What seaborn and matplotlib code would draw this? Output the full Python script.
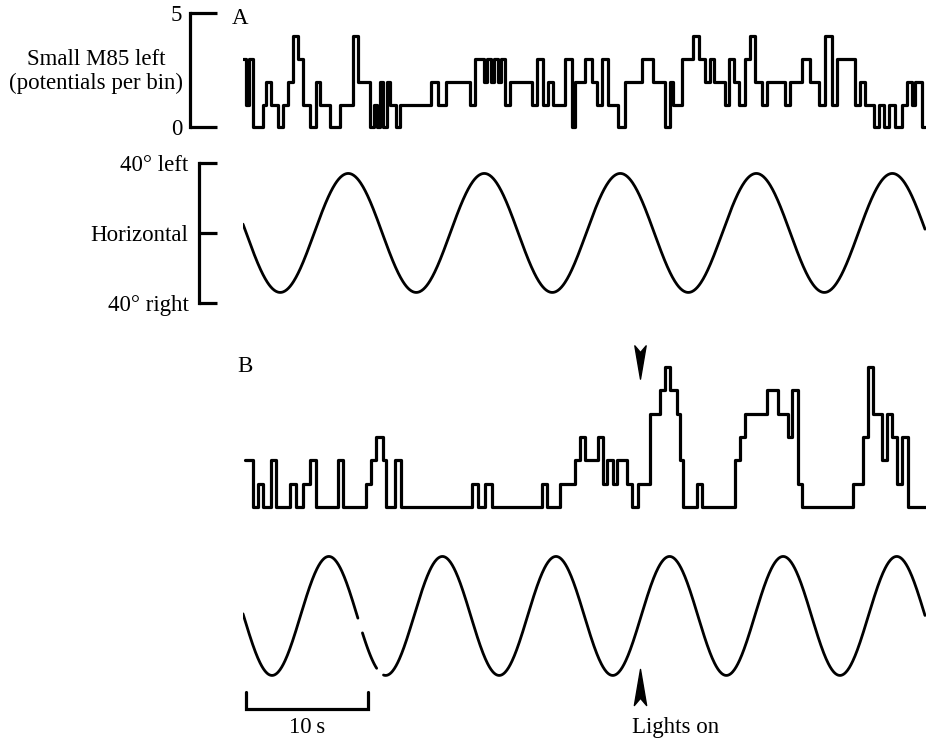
import matplotlib
matplotlib.use("Agg")
import matplotlib.pyplot as plt
import numpy as np
import pandas as pd
import seaborn as sns
from matplotlib.path import Path

# A: small M85 left, potentials per bin (step trace), bin edges in s
a_edges_s = [
    0.00, 0.25, 0.49, 0.82, 1.64, 1.89, 2.30, 2.87, 3.28, 3.69,
    4.10, 4.51, 4.92, 5.49, 5.98, 6.31, 7.13, 7.95, 9.02, 9.43,
    10.41, 10.74, 10.98, 11.23, 11.48, 11.80, 12.05, 12.54, 12.87, 15.41,
    15.98, 16.64, 18.61, 19.02, 19.75, 20.00, 20.33, 20.57, 20.90, 21.15,
    21.48, 21.89, 23.69, 24.10, 24.59, 25.00, 25.41, 26.39, 26.97, 27.21,
    28.03, 28.61, 29.02, 29.43, 29.92, 30.74, 31.31, 32.70, 33.61, 34.59,
    35.00, 35.25, 35.98, 36.89, 37.38, 37.87, 38.28, 38.61, 39.51, 39.84,
    40.25, 40.66, 41.15, 41.56, 41.97, 42.54, 42.95, 44.43, 44.84, 45.82,
    46.48, 47.21, 47.70, 48.28, 48.69, 50.16, 50.57, 50.98, 51.72, 52.13,
    52.54, 52.95, 53.44, 54.02, 54.43, 54.84, 55.08, 55.66, 55.90,
]
a_counts = [
    3, 1, 3, 0, 1, 2, 1, 0, 1, 2,
    4, 3, 1, 0, 2, 1, 0, 1, 4, 2,
    0, 1, 0, 2, 0, 2, 1, 0, 1, 2,
    1, 2, 1, 3, 2, 3, 2, 3, 2, 3,
    1, 2, 1, 3, 1, 2, 1, 3, 0, 2,
    3, 2, 1, 3, 1, 0, 2, 3, 2, 0,
    2, 1, 3, 4, 3, 2, 3, 2, 1, 3,
    2, 1, 3, 4, 2, 1, 2, 1, 2, 3,
    2, 1, 4, 1, 3, 1, 2, 1, 0, 1,
    0, 1, 0, 1, 2, 1, 2, 0,
]

# B: same neurone, lights switched on during the run
b_edges_s = [
    0.16, 0.82, 1.23, 1.64, 2.30, 2.70, 3.85, 4.34, 4.92, 5.49,
    5.98, 7.79, 8.20, 10.08, 10.49, 10.90, 11.48, 11.72, 12.46, 12.95,
    18.77, 19.26, 19.84, 20.41, 24.51, 24.92, 25.98, 27.21, 27.62, 28.03,
    29.10, 29.51, 29.84, 30.33, 30.66, 31.48, 31.89, 32.38, 33.36, 34.18,
    34.59, 35.00, 35.57, 35.82, 36.07, 37.21, 37.62, 40.33, 40.74, 41.15,
    42.95, 43.85, 44.67, 45.00, 45.49, 45.82, 50.00, 50.82, 51.23, 51.64,
    52.38, 52.79, 53.20, 53.61, 54.02, 54.51, 56.07,
]
b_counts = [
    2, 0, 1, 0, 2, 0, 1, 0, 1, 2,
    0, 2, 0, 1, 2, 3, 2, 0, 2, 0,
    1, 0, 1, 0, 1, 0, 1, 2, 3, 2,
    3, 1, 2, 1, 2, 1, 0, 1, 4, 5,
    6, 5, 4, 2, 0, 1, 0, 2, 3, 4,
    5, 4, 3, 5, 1, 0, 1, 3, 6, 4,
    2, 4, 3, 1, 3, 0,
]

# sinusoidal horizontal rotation (deg, + = left)
a_stim_amp_deg = 34
a_stim_period_s = 11.15
a_stim_trough_s = 3.05
a_duration_s = 55.9
b_stim_amp_deg = 34
b_stim_period_s = 9.31
b_stim_trough_s = 2.38
b_duration_s = 55.9
b_stim_gaps_s = [(9.43, 9.75), (10.98, 11.48)]

lights_on_s = 32.5
scale_bar_s = 10
count_ticks = [0, 5]
deg_ticks = [40, 0, -40]
deg_labels = ["40\u00b0 left", "Horizontal", "40\u00b0 right"]

FIG_W, FIG_H = 928, 741
X0, PX_PER_S, T_MAX = 243, 12.2, 56.0
FS = 16.5
LW = 2.3


def px_rect(top, bottom):
    return [X0 / FIG_W, 1 - bottom / FIG_H, T_MAX * PX_PER_S / FIG_W, (bottom - top) / FIG_H]


def step_frame(edges, counts):
    return pd.DataFrame({"t": edges, "count": list(counts) + [counts[-1]]})


def stim_frame(amp, period, trough, duration, gaps=()):
    t = np.linspace(0, duration, 1200)
    deg = -amp * np.cos(2 * np.pi * (t - trough) / period)
    keep = np.ones_like(t, dtype=bool)
    for g0, g1 in gaps:
        keep &= ~((t > g0) & (t < g1))
    seg = np.cumsum(np.r_[0, np.diff(keep.astype(int)) != 0])
    return pd.DataFrame({"t": t, "deg": deg, "seg": seg})[keep]


def bracket(ax, ticks, labels, outward_pt, length_pt, pad_pt):
    for side in ("top", "right", "bottom"):
        ax.spines[side].set_visible(False)
    sp = ax.spines["left"]
    sp.set_visible(True)
    sp.set_position(("outward", outward_pt))
    sp.set_bounds(min(ticks), max(ticks))
    sp.set_linewidth(2.3)
    sp.set_color("black")
    sp.set_capstyle("projecting")
    ax.set_xticks([])
    ax.set_yticks(ticks)
    ax.set_yticklabels(labels)
    ax.tick_params(axis="y", left=True, direction="in", length=length_pt,
                   width=2.3, pad=pad_pt, labelsize=FS, colors="black")


sns.set_theme(style="white")
plt.rcParams["font.family"] = ["Liberation Serif", "DejaVu Serif"]
plt.rcParams["text.color"] = "black"
plt.rcParams["axes.labelcolor"] = "black"

arrow_up = Path([(0, 0.5), (0.17, -0.5), (0, -0.3), (-0.17, -0.5), (0, 0.5)],
                [Path.MOVETO, Path.LINETO, Path.LINETO, Path.LINETO, Path.CLOSEPOLY])
arrow_down = Path([(0, -0.5), (0.17, 0.5), (0, 0.3), (-0.17, 0.5), (0, -0.5)],
                  [Path.MOVETO, Path.LINETO, Path.LINETO, Path.LINETO, Path.CLOSEPOLY])

fig = plt.figure(figsize=(FIG_W / 100, FIG_H / 100), dpi=100)
fig.patch.set_facecolor("white")

ax_a = fig.add_axes(px_rect(5, 140))
ax_sa = fig.add_axes(px_rect(150, 315))
ax_b = fig.add_axes(px_rect(335, 520))
ax_sb = fig.add_axes(px_rect(540, 712))
for ax in (ax_a, ax_sa, ax_b, ax_sb):
    ax.set_facecolor("none")
    ax.set_xlim(0, T_MAX)

# panel A
sns.lineplot(data=step_frame(a_edges_s, a_counts), x="t", y="count", ax=ax_a,
             color="black", linewidth=LW, drawstyle="steps-post",
             estimator=None, sort=False)
ax_a.set_ylim(-0.546, 5.35)
bracket(ax_a, count_ticks, [str(v) for v in count_ticks], 38.2, 19.4, 5.5)
ax_a.set_ylabel("Small M85 left\n(potentials per bin)", rotation=0, color="black",
                fontsize=FS, ha="center", va="center", multialignment="center")
ax_a.yaxis.set_label_coords(-0.2155, 0.507)
ax_a.set_xlabel("")

sns.lineplot(data=stim_frame(a_stim_amp_deg, a_stim_period_s, a_stim_trough_s, a_duration_s),
             x="t", y="deg", units="seg", estimator=None, ax=ax_sa,
             color="black", linewidth=2.0)
ax_sa.set_ylim(-46.9, 47.4)
bracket(ax_sa, deg_ticks, deg_labels, 31.7, 13.0, 7.5)
ax_sa.set_ylabel("")
ax_sa.set_xlabel("")

# panel B
sns.lineplot(data=step_frame(b_edges_s, b_counts), x="t", y="count", ax=ax_b,
             color="black", linewidth=LW, drawstyle="steps-post",
             estimator=None, sort=False)
ax_b.set_ylim(-0.558, 7.38)
ax_b.plot([lights_on_s], [6.24], marker=arrow_down, ms=24, color="black",
          ls="none", clip_on=False)
ax_b.axis("off")

sns.lineplot(data=stim_frame(b_stim_amp_deg, b_stim_period_s, b_stim_trough_s,
                             b_duration_s, b_stim_gaps_s),
             x="t", y="deg", units="seg", estimator=None, ax=ax_sb,
             color="black", linewidth=2.0)
ax_sb.set_ylim(-54.9, 43.4)
ax_sb.plot([lights_on_s], [-40.6], marker=arrow_up, ms=26, color="black",
           ls="none", clip_on=False)
ax_sb.plot([0.25, 0.25, 0.25 + scale_bar_s, 0.25 + scale_bar_s],
           [-43.4, -53.1, -53.1, -43.4], color="black", linewidth=2.3,
           solid_joinstyle="miter", clip_on=False)
ax_sb.text(0.25 + scale_bar_s / 2, -64, f"{scale_bar_s}\u2009s", fontsize=FS,
           ha="center", va="center", color="black")
ax_sb.text(lights_on_s - 0.6, -64, "Lights on", fontsize=FS, ha="left",
           va="center", color="black")
ax_sb.axis("off")

fig.text(240 / FIG_W, 1 - 19 / FIG_H, "A", fontsize=FS, ha="center", va="center",
         color="black")
fig.text(245 / FIG_W, 1 - 367 / FIG_H, "B", fontsize=FS, ha="center", va="center",
         color="black")

fig.savefig("out.png", dpi=100, facecolor="white")
